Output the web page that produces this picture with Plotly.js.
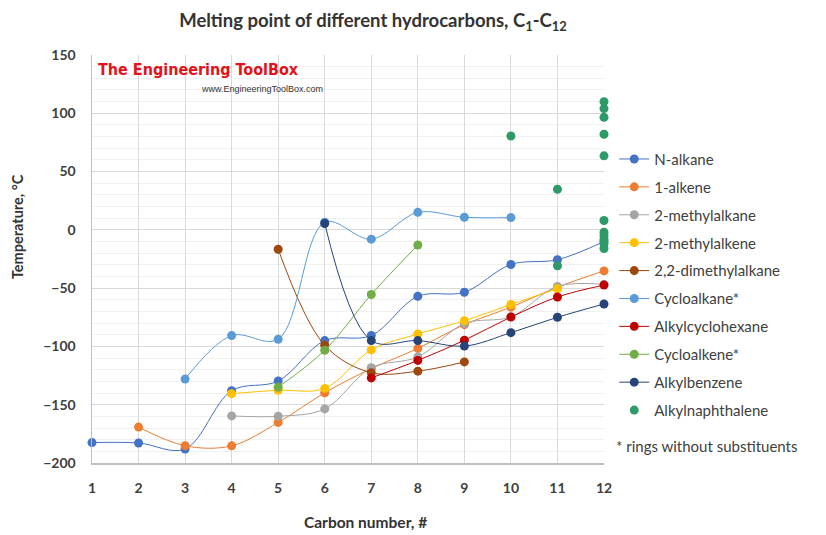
<!DOCTYPE html>
<html>
<head>
<meta charset="utf-8">
<script src="https://cdn.plot.ly/plotly-3.0.1.min.js"></script>
<style>html,body{margin:0;padding:0;background:#fff;}#chart{width:826px;height:535px;}</style>
</head>
<body>
<div id="chart"></div>
<script>
// Data (melting points, °C)
const carbonTicks = [1,2,3,4,5,6,7,8,9,10,11,12];

const nAlkaneX = [1,2,3,4,5,6,7,8,9,10,11,12];
const nAlkaneY = [-182.5,-182.8,-188,-138,-129.7,-95,-90.6,-57,-53.5,-29.7,-25.6,-10];

const alkene1X = [2,3,4,5,6,7,8,9,10,11,12];
const alkene1Y = [-169.2,-185.2,-185.3,-165.2,-139.8,-119,-101.7,-81.3,-66.3,-49.2,-35.2];

const methylAlkaneX = [4,5,6,7,8,9,10,11,12];
const methylAlkaneY = [-159.6,-159.9,-153.6,-118.3,-109,-80.4,-74.6,-48.5,-46.8];

const methylAlkeneX = [4,5,6,7,8,9,10,11];
const methylAlkeneY = [-140.5,-137.6,-136,-103,-89.3,-78,-64,-50.5];

const dimethylAlkaneX = [5,6,7,8,9];
const dimethylAlkaneY = [-16.6,-99,-122.5,-121.2,-113.3];

const cycloalkaneX = [3,4,5,6,7,8,9,10];
const cycloalkaneY = [-128,-90.7,-93.8,6.5,-8,15,10.8,10.5];

const alkylcyclohexaneX = [7,8,9,10,11,12];
const alkylcyclohexaneY = [-127,-112,-94.7,-74.8,-57.6,-47.4];

const cycloalkeneX = [5,6,7,8];
const cycloalkeneY = [-135,-103.3,-55.5,-13];

const alkylbenzeneX = [6,7,8,9,10,11,12];
const alkylbenzeneY = [5.5,-95,-95,-99.7,-88.2,-75,-63.6];

const naphthaleneX = [10,11,11,12,12,12,12,12,12,12,12,12,12,12];
const naphthaleneY = [80.5,34.8,-30.8,110,104,96.5,82,63.5,8,-2,-5,-8.5,-12,-16];

const seriesNames = ["N-alkane","1-alkene","2-methylalkane","2-methylalkene","2,2-dimethylalkane",
  "Cycloalkane*","Alkylcyclohexane","Cycloalkene*","Alkylbenzene","Alkylnaphthalene"];
const seriesColors = ["#4472C4","#ED7D31","#A5A5A5","#FFC000","#9E480E",
  "#5B9BD5","#C00000","#70AD47","#264478","#2E9A68"];

const xs = [nAlkaneX,alkene1X,methylAlkaneX,methylAlkeneX,dimethylAlkaneX,cycloalkaneX,alkylcyclohexaneX,cycloalkeneX,alkylbenzeneX,naphthaleneX];
const ys = [nAlkaneY,alkene1Y,methylAlkaneY,methylAlkeneY,dimethylAlkaneY,cycloalkaneY,alkylcyclohexaneY,cycloalkeneY,alkylbenzeneY,naphthaleneY];

const traces = seriesNames.map((name,i)=>({
  type:'scatter',
  x: xs[i], y: ys[i], name: name,
  mode: i===9 ? 'markers' : 'lines+markers',
  line: {color: seriesColors[i], width: 1, shape: 'spline', smoothing: 1},
  marker: {color: seriesColors[i], size: 9},
  cliponaxis: false,
  legendgroup: 'g'+i
}));

const font = "Lato, 'Open Sans', sans-serif";
const layout = {
  width: 826, height: 535,
  paper_bgcolor:'#fff', plot_bgcolor:'#fff',
  margin: {l:92, r:222, t:55, b:72},
  font: {family: font, color:'#404040'},
  title: {text:'Melting point of different hydrocarbons, C<sub>1</sub>-C<sub>12</sub>',
    font:{family:font, size:18.5, weight:'bold', color:'#333'},
    x: 0.4516, xref:'container', xanchor:'center', y: 0.962, yref:'container', yanchor:'middle'},
  xaxis: {range:[1,12], tickvals: carbonTicks, ticktext: carbonTicks.map(String),
    showgrid:true, gridcolor:'#D9D9D9', gridwidth:1, showline:true, linecolor:'#BFBFBF', linewidth:1.5,
    zeroline:false, ticks:'', ticklabelstandoff: 12,
    tickfont:{family:font, size:14, weight:'bold', color:'#404040'}},
  yaxis: {range:[-200,150], dtick:50, tick0:0,
    showgrid:true, gridcolor:'#D9D9D9', gridwidth:1, showline:true, linecolor:'#BFBFBF', linewidth:1.5,
    zeroline:false, ticks:'', ticklabelstandoff: 12,
    minor:{dtick:10, showgrid:true, gridcolor:'#F0F0F0', gridwidth:1},
    tickfont:{family:font, size:14, weight:'bold', color:'#404040'}},
  legend: {x:1.02, xanchor:'left', y:0.785, yanchor:'top', traceorder:'grouped', tracegroupgap:5.4,
    font:{family:font, size:15, color:'#404040'}, bgcolor:'rgba(0,0,0,0)'},
  shapes: [{type:'rect', xref:'paper', yref:'paper', x0:0.003, x1:0.459, y0:0.897, y1:0.998,
    fillcolor:'#fff', line:{width:0}, layer:'between'}],
  annotations: [
    {text:'The Engineering ToolBox', xref:'paper', yref:'paper', x:0.008, y:0.965, xanchor:'left', yanchor:'middle',
      showarrow:false, font:{family:"'DejaVu Sans Condensed', 'DejaVu Sans', sans-serif", size:16, weight:'bold', color:'#E3121B'}},
    {text:'www.EngineeringToolBox.com', xref:'paper', yref:'paper', x:0.455, y:0.917, xanchor:'right', yanchor:'middle',
      showarrow:false, font:{family:"'Liberation Sans', sans-serif", size:9, color:'#333'}},
    {text:'Temperature, °C', xref:'paper', yref:'paper', x:-0.145, y:0.58, xanchor:'center', yanchor:'middle',
      textangle:-90, showarrow:false, font:{family:font, size:14.5, weight:'bold', color:'#333'}},
    {text:'Carbon number, #', xref:'paper', yref:'paper', x:0.535, y:-0.145, xanchor:'center', yanchor:'middle',
      showarrow:false, font:{family:font, size:15.5, weight:'bold', color:'#333'}},
    {text:'* rings without substituents', xref:'paper', yref:'paper', x:1.02, y:0.042, xanchor:'left', yanchor:'middle',
      showarrow:false, font:{family:font, size:15, color:'#404040'}}
  ]
};

Plotly.newPlot('chart', traces, layout, {staticPlot:true, displayModeBar:false});
</script>
</body>
</html>
